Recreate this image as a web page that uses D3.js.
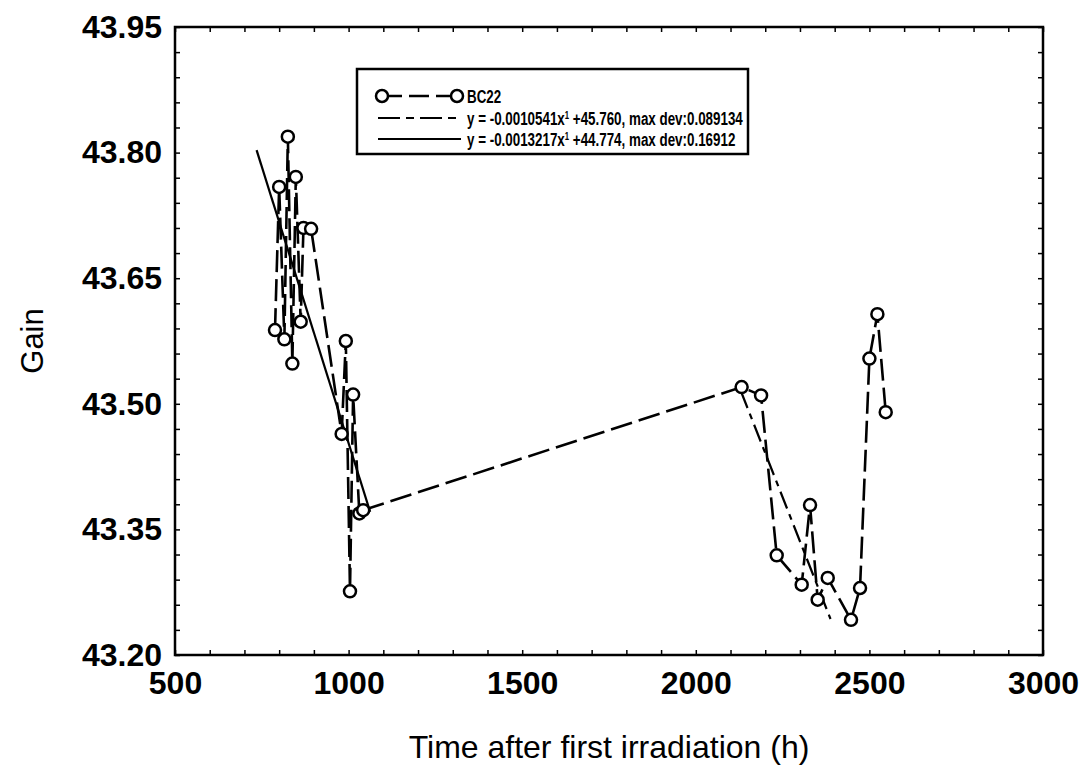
<!DOCTYPE html>
<html>
<head>
<meta charset="utf-8">
<script src="https://cdn.jsdelivr.net/npm/d3@7"></script>
<style>
  body { margin: 0; background: #fff; }
  text { font-family: "Liberation Sans", Arial, sans-serif; }
</style>
</head>
<body>
<div id="chart"></div>
<script>
// values
var timeH = [788, 800, 815, 825, 838, 848, 862, 870, 892, 980, 992, 1004, 1013, 1031, 1042,
             2132, 2188, 2233, 2305, 2329, 2351, 2380, 2447, 2473, 2500, 2523, 2547];
var gain = [43.588, 43.759, 43.577, 43.819, 43.548, 43.771, 43.598, 43.710, 43.709, 43.464,
            43.575, 43.276, 43.511, 43.369, 43.373,
            43.520, 43.510, 43.319, 43.284, 43.379, 43.266, 43.292, 43.242, 43.280, 43.554,
            43.607, 43.490];

// fit lines (end points as drawn)
var fitDashedX = [2130, 2388];
var fitDashedY = [43.515, 43.243];
var fitSolidX = [735, 1062];
var fitSolidY = [43.803, 43.371];

var xTicks = [500, 1000, 1500, 2000, 2500, 3000];
var yTicks = [43.20, 43.35, 43.50, 43.65, 43.80, 43.95];

var legendLabels = ["BC22", "y = -0.0010541x", "y = -0.0013217x"];
var legendTails = ["", " +45.760, max dev:0.089134", " +44.774, max dev:0.16912"];

var W = 1084, H = 768;
var margin = {top: 27, right: 41, bottom: 113, left: 175};
var width = W - margin.left - margin.right;
var height = H - margin.top - margin.bottom;

var svg = d3.select("#chart")
  .append("svg")
    .attr("width", W)
    .attr("height", H)
  .append("g")
    .attr("transform", "translate(" + margin.left + "," + margin.top + ")");

var x = d3.scaleLinear().domain([500, 3000]).range([0, width]);
var y = d3.scaleLinear().domain([43.20, 43.95]).range([height, 0]);

var minorX = d3.range(500, 3001, 100);
var minorY = d3.range(0, 26).map(function (i) { return 43.20 + i * 0.03; });

function styleAxis(g) {
  g.select(".domain").remove();
  g.selectAll("line").attr("stroke", "#000").attr("stroke-width", 1.5);
}

// inward minor ticks on all four sides
svg.append("g").attr("transform", "translate(0," + height + ")")
  .call(d3.axisBottom(x).tickValues(minorX).tickSize(-5).tickFormat(""))
  .call(styleAxis);
svg.append("g")
  .call(d3.axisTop(x).tickValues(minorX).tickSize(-5).tickFormat(""))
  .call(styleAxis);
svg.append("g")
  .call(d3.axisLeft(y).tickValues(minorY).tickSize(-5).tickFormat(""))
  .call(styleAxis);
svg.append("g").attr("transform", "translate(" + width + ",0)")
  .call(d3.axisRight(y).tickValues(minorY).tickSize(-5).tickFormat(""))
  .call(styleAxis);

// tick labels
var xAxis = svg.append("g").attr("transform", "translate(0," + height + ")")
  .call(d3.axisBottom(x).tickValues(xTicks).tickSize(0).tickPadding(16).tickFormat(d3.format("d")));
xAxis.select(".domain").remove();
xAxis.selectAll("text")
  .attr("font-size", 32).attr("font-weight", "bold").attr("fill", "#000")
  .attr("font-family", "Liberation Sans, Arial, sans-serif")
  .attr("dy", "0.71em");

var yAxis = svg.append("g")
  .call(d3.axisLeft(y).tickValues(yTicks).tickSize(0).tickPadding(13).tickFormat(d3.format(".2f")));
yAxis.select(".domain").remove();
yAxis.selectAll("text")
  .attr("font-size", 32).attr("font-weight", "bold").attr("fill", "#000")
  .attr("font-family", "Liberation Sans, Arial, sans-serif");

// frame
svg.append("rect")
  .attr("width", width).attr("height", height)
  .attr("fill", "none").attr("stroke", "#000").attr("stroke-width", 2.5);

// axis titles
svg.append("text")
  .attr("x", width / 2).attr("y", height + 103)
  .attr("text-anchor", "middle")
  .attr("font-size", 32)
  .text("Time after first irradiation (h)");

svg.append("text")
  .attr("transform", "translate(" + (32 - margin.left) + "," + (height / 2) + ") rotate(-90)")
  .attr("text-anchor", "middle")
  .attr("dy", "0.35em")
  .attr("font-size", 31)
  .text("Gain");

// fit lines
var line = d3.line()
  .x(function (d) { return x(d[0]); })
  .y(function (d) { return y(d[1]); });

svg.append("path")
  .datum(d3.zip(fitSolidX, fitSolidY))
  .attr("d", line)
  .attr("fill", "none").attr("stroke", "#000").attr("stroke-width", 2.2);

svg.append("path")
  .datum(d3.zip(fitDashedX, fitDashedY))
  .attr("d", line)
  .attr("fill", "none").attr("stroke", "#000").attr("stroke-width", 2.2)
  .attr("stroke-dasharray", "18,6,6,6");

// data line
var pts = d3.zip(timeH, gain);
svg.append("path")
  .datum(pts)
  .attr("d", line)
  .attr("fill", "none").attr("stroke", "#000").attr("stroke-width", 2.6)
  .attr("stroke-dasharray", "22,7");

svg.append("g")
  .selectAll("circle")
  .data(pts)
  .enter()
  .append("circle")
    .attr("cx", function (d) { return x(d[0]); })
    .attr("cy", function (d) { return y(d[1]); })
    .attr("r", 6)
    .attr("fill", "#fff")
    .attr("stroke", "#000")
    .attr("stroke-width", 2.5);

// legend
var lg = svg.append("g").attr("transform", "translate(" + (357 - margin.left) + "," + (69 - margin.top) + ")");
lg.append("rect")
  .attr("width", 391).attr("height", 85)
  .attr("fill", "#fff").attr("stroke", "#000").attr("stroke-width", 2.5);

var rowY = [27, 49, 70];
var sx0 = 25, sx1 = 100, tx = 110;

lg.append("line").attr("x1", sx0).attr("x2", sx1).attr("y1", rowY[0]).attr("y2", rowY[0])
  .attr("stroke", "#000").attr("stroke-width", 2.5).attr("stroke-dasharray", "20,7");
lg.selectAll(".lgdot").data([sx0, sx1]).enter().append("circle")
  .attr("cx", function (d) { return d; }).attr("cy", rowY[0]).attr("r", 6)
  .attr("fill", "#fff").attr("stroke", "#000").attr("stroke-width", 2.5);
lg.append("line").attr("x1", sx0 - 4).attr("x2", sx1 + 4).attr("y1", rowY[1]).attr("y2", rowY[1])
  .attr("stroke", "#000").attr("stroke-width", 2.2).attr("stroke-dasharray", "22,6,8,6");
lg.append("line").attr("x1", sx0 - 4).attr("x2", sx1 + 4).attr("y1", rowY[2]).attr("y2", rowY[2])
  .attr("stroke", "#000").attr("stroke-width", 2.2);

// legend text: narrow bold lettering, squeezed to fit the box
var rows = [];
legendLabels.forEach(function (lab, i) {
  var g = lg.append("g").attr("transform", "translate(" + tx + "," + rowY[i] + ")");
  var t = g.append("text")
    .attr("dy", "0.35em")
    .attr("font-size", 19).attr("font-weight", "bold");
  t.append("tspan").text(lab);
  if (i > 0) {
    t.append("tspan").attr("font-size", 11).attr("dy", -6).text("1");
    t.append("tspan").attr("dy", 6).text(legendTails[i]);
  }
  rows.push({g: g, t: t});
});
var squeeze = 276 / rows[1].t.node().getComputedTextLength();
rows.forEach(function (r) {
  r.g.attr("transform", r.g.attr("transform") + " scale(" + squeeze + ",1)");
});
</script>
</body>
</html>
